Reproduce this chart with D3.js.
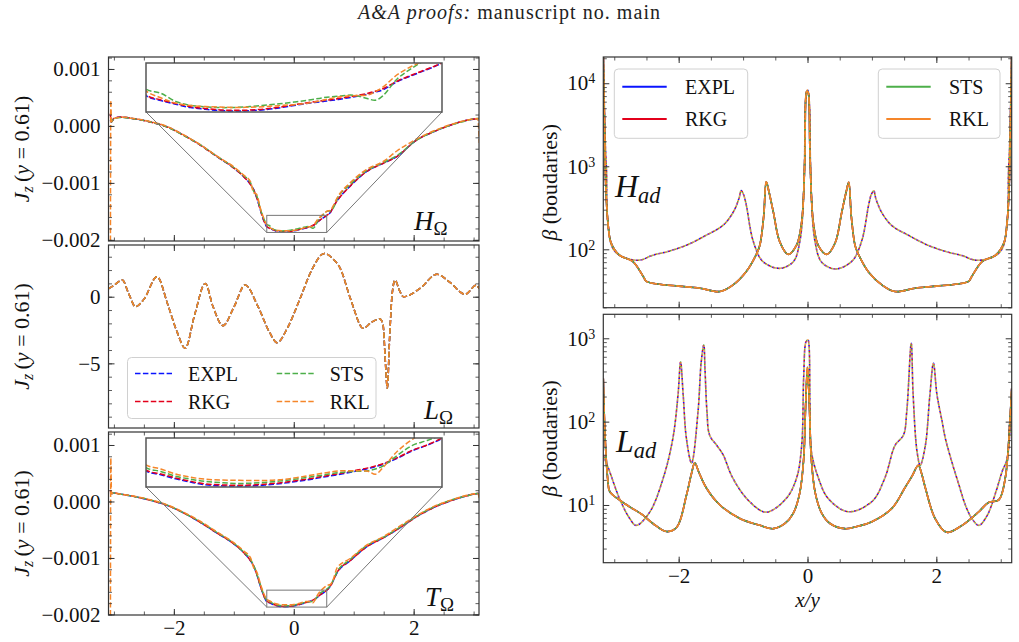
<!DOCTYPE html>
<html><head><meta charset="utf-8">
<script src="https://cdn.jsdelivr.net/npm/d3@7"></script>
<style>body{margin:0;background:#fff}svg{display:block}</style>
</head><body><svg id="c" width="1019" height="642"></svg>
<script>
// ---------------- DATA ----------------
const methods = ["EXPL","RKG","STS","RKL"];
const methodColors = ["#0a14ff","#e3001b","#4daf4a","#f5862a"];

// left column: J_z along y = 0.61 (units of 1e-3 for H and T panels)
const xJ = [-3.058,-3.052,-3.04,-3.00,-2.89,-2.67,-2.39,-2.11,-1.84,-1.56,-1.28,-1.00,-0.84,-0.72,-0.67,-0.62,-0.55,-0.50,-0.45,-0.40,-0.35,-0.30,-0.25,-0.20,-0.15,-0.10,-0.05,0.00,0.05,0.10,0.15,0.20,0.25,0.30,0.325,0.35,0.40,0.45,0.50,0.55,0.61,0.66,0.72,0.94,1.22,1.50,1.72,2.05,2.33,2.61,2.89,3.07,3.095];
const jzH_EXPL = [0.10,0.08,0.07,0.13,0.156,0.128,0.069,-0.017,-0.161,-0.335,-0.538,-0.739,-0.885,-1.03,-1.115,-1.25,-1.50,-1.66,-1.770,-1.800,-1.822,-1.843,-1.853,-1.861,-1.864,-1.862,-1.856,-1.845,-1.830,-1.816,-1.805,-1.793,-1.778,-1.760,-1.748,-1.735,-1.683,-1.645,-1.610,-1.572,-1.52,-1.42,-1.32,-1.058,-0.798,-0.652,-0.538,-0.248,-0.104,0.012,0.099,0.128,0.13];
const jzH_RKG  = [0.22,0.12,0.07,0.13,0.155,0.127,0.068,-0.018,-0.162,-0.336,-0.539,-0.74,-0.886,-1.03,-1.117,-1.25,-1.50,-1.66,-1.766,-1.796,-1.818,-1.838,-1.849,-1.857,-1.860,-1.858,-1.852,-1.841,-1.826,-1.812,-1.800,-1.788,-1.773,-1.755,-1.743,-1.728,-1.680,-1.642,-1.607,-1.570,-1.52,-1.42,-1.32,-1.057,-0.797,-0.651,-0.537,-0.247,-0.103,0.013,0.10,0.128,0.13];
const jzH_STS  = [0.10,0.09,0.07,0.13,0.15,0.125,0.07,-0.02,-0.165,-0.33,-0.535,-0.73,-0.87,-1.00,-1.14,-1.22,-1.48,-1.63,-1.730,-1.755,-1.805,-1.829,-1.838,-1.843,-1.842,-1.837,-1.829,-1.820,-1.809,-1.797,-1.782,-1.773,-1.767,-1.789,-1.798,-1.771,-1.665,-1.600,-1.545,-1.50,-1.49,-1.44,-1.29,-1.03,-0.78,-0.64,-0.52,-0.25,-0.10,0.01,0.095,0.13,0.13];
const jzH_RKL  = [-2.3,0.45,0.08,0.13,0.155,0.13,0.075,-0.01,-0.155,-0.33,-0.53,-0.72,-0.86,-0.98,-1.17,-1.20,-1.47,-1.62,-1.741,-1.783,-1.815,-1.830,-1.837,-1.840,-1.842,-1.841,-1.837,-1.831,-1.825,-1.815,-1.797,-1.778,-1.770,-1.766,-1.745,-1.718,-1.640,-1.588,-1.545,-1.50,-1.48,-1.40,-1.27,-1.00,-0.76,-0.62,-0.44,-0.23,-0.09,0.02,0.10,0.13,-0.30];

const jzT_EXPL = [0.15,0.14,0.14,0.15,0.13,0.09,0.02,-0.07,-0.20,-0.37,-0.56,-0.75,-0.90,-1.05,-1.14,-1.28,-1.52,-1.67,-1.772,-1.795,-1.820,-1.840,-1.856,-1.862,-1.864,-1.863,-1.858,-1.850,-1.838,-1.825,-1.809,-1.794,-1.776,-1.757,-1.745,-1.732,-1.693,-1.648,-1.614,-1.573,-1.50,-1.40,-1.27,-1.05,-0.80,-0.64,-0.50,-0.27,-0.11,0.01,0.10,0.14,0.14];
const jzT_RKG  = [0.20,0.14,0.14,0.15,0.13,0.09,0.02,-0.07,-0.20,-0.37,-0.56,-0.75,-0.90,-1.05,-1.14,-1.28,-1.52,-1.67,-1.767,-1.790,-1.815,-1.835,-1.851,-1.857,-1.859,-1.858,-1.853,-1.845,-1.833,-1.820,-1.804,-1.789,-1.771,-1.753,-1.741,-1.728,-1.690,-1.645,-1.612,-1.570,-1.50,-1.40,-1.26,-1.05,-0.80,-0.64,-0.50,-0.27,-0.11,0.01,0.10,0.14,0.14];
const jzT_STS  = [0.16,0.15,0.14,0.15,0.13,0.09,0.025,-0.065,-0.20,-0.36,-0.55,-0.74,-0.89,-1.03,-1.13,-1.27,-1.50,-1.65,-1.751,-1.775,-1.804,-1.822,-1.836,-1.843,-1.848,-1.847,-1.842,-1.834,-1.823,-1.810,-1.796,-1.782,-1.775,-1.770,-1.760,-1.742,-1.675,-1.615,-1.585,-1.55,-1.49,-1.39,-1.25,-1.03,-0.78,-0.63,-0.49,-0.26,-0.10,0.02,0.10,0.14,0.13];
const jzT_RKL  = [-2.3,0.77,0.14,0.15,0.13,0.095,0.03,-0.06,-0.19,-0.35,-0.54,-0.73,-0.87,-1.00,-1.17,-1.24,-1.48,-1.63,-1.734,-1.760,-1.790,-1.810,-1.822,-1.827,-1.829,-1.830,-1.830,-1.826,-1.815,-1.800,-1.785,-1.772,-1.770,-1.773,-1.792,-1.752,-1.650,-1.578,-1.53,-1.49,-1.47,-1.38,-1.18,-1.01,-0.77,-0.62,-0.47,-0.25,-0.09,0.02,0.11,0.14,0.06];

const xLO = [-3.09,-3.0,-2.86,-2.75,-2.64,-2.5,-2.28,-2.1,-1.95,-1.81,-1.65,-1.475,-1.35,-1.18,-1.0,-0.81,-0.6,-0.4,-0.28,-0.1,0.1,0.3,0.51,0.65,0.775,0.95,1.16,1.3,1.44,1.49,1.53,1.56,1.60,1.64,1.69,1.76,1.83,2.1,2.39,2.6,2.86,3.05,3.09];
const jzL_all = [0.60,0.85,1.25,0.2,-0.75,-0.2,1.50,-0.6,-2.6,-3.87,-1.3,1.0,-0.7,-2.17,-0.8,0.88,-0.7,-2.7,-3.45,-2.3,-0.2,2.0,3.25,2.85,2.13,-0.2,-2.37,-1.9,-1.67,-2.12,-5.0,-6.87,-3.0,0.13,1.25,0.5,0.0,0.6,1.68,1.1,0.18,0.88,0.6];

// right column: plasma beta at the boundaries
const xHadA = [-3.17,-3.15,-3.13,-3.10,-3.05,-2.92,-2.71,-2.55,-2.50,-2.30,-2.00,-1.67,-1.36,-1.16,-0.95,-0.80,-0.74,-0.68,-0.64,-0.60,-0.53,-0.43,-0.30,-0.17,-0.09,-0.04,-0.014,0,0.014,0.04,0.09,0.17,0.30,0.43,0.53,0.60,0.64,0.68,0.74,0.80,0.95,1.16,1.36,1.67,2.00,2.30,2.50,2.55,2.71,2.92,3.05,3.10,3.13,3.15,3.17];
const betaHadA = [22000,3000,540,220,120,85,71,47,41,38,36,34,31,37,54,85,112,250,650,500,280,123,87,112,214,1380,7900,8000,7600,1300,210,110,87,120,275,490,640,250,110,84,53,37,31,34,36,38,41,47,71,85,120,220,540,3000,22000];
const xHadB = [-3.17,-3.14,-3.12,-3.10,-3.02,-2.87,-2.61,-2.40,-2.19,-1.88,-1.57,-1.31,-1.15,-1.06,-1.03,-0.99,-0.95,-0.84,-0.69,-0.43,-0.22,-0.12,-0.056,-0.025,0,0.025,0.056,0.12,0.22,0.43,0.69,0.84,0.95,0.99,1.03,1.06,1.15,1.31,1.57,1.88,2.19,2.40,2.61,2.87,3.02,3.10,3.12,3.14,3.17];
const betaHadB = [22000,2000,870,214,102,81,74,85,93,112,148,195,282,420,510,450,340,123,71,59,71,123,540,6600,8300,6400,520,120,70,58,72,125,345,455,505,410,280,193,147,111,92,84,74,80,101,210,850,2000,22000];
const xLadA = [-3.17,-3.14,-3.10,-3.07,-2.92,-2.76,-2.56,-2.40,-2.19,-2.03,-1.88,-1.80,-1.75,-1.68,-1.57,-1.36,-1.05,-0.74,-0.53,-0.35,-0.22,-0.12,-0.06,-0.03,0,0.03,0.06,0.12,0.22,0.35,0.58,0.80,1.0,1.31,1.51,1.62,1.72,1.77,1.83,1.98,2.16,2.40,2.66,2.81,2.97,3.07,3.15,3.17];
const betaLadA = [330,60,20,14.5,11.5,9.5,7.6,6.0,4.8,5.4,13,24,32,24,16,10,6.9,5.7,5.2,6.0,8,14,35,150,450,150,35,14,8,6.0,5.2,5.6,6.3,9.1,16,22,30,24,16,6.9,4.7,5.7,8.3,10.7,11.5,21,130,250];
const xLadB = [-3.17,-3.15,-3.07,-2.92,-2.76,-2.66,-2.45,-2.24,-2.09,-2.01,-1.97,-1.93,-1.88,-1.80,-1.70,-1.65,-1.61,-1.59,-1.56,-1.52,-1.41,-1.31,-1.16,-0.90,-0.64,-0.33,-0.17,-0.09,-0.06,-0.025,0,0.01,0.04,0.06,0.17,0.32,0.63,1.0,1.20,1.36,1.49,1.54,1.61,1.64,1.70,1.75,1.83,1.90,1.955,2.01,2.09,2.14,2.24,2.35,2.45,2.55,2.66,2.79,2.92,3.02,3.10,3.17];
const betaLadB = [40,36,25,12,6.9,5.7,8.2,21,63,210,520,210,63,32,130,520,830,400,130,69,52,40,21,11,8.2,12,21,52,330,900,950,950,130,44,21,12,8.3,11,21,52,69,130,870,210,44,30,52,210,500,210,100,63,33,17.5,10,6.9,5.7,7.5,14,25,36,250];

// ticks
const xTicks = [-2,0,2];
const xTickLabels = ["\u22122","0","2"];
const jzTicks = [1,0,-1,-2];
const jzTickLabels = ["0.001","0.000","\u22120.001","\u22120.002"];
const lTicks = [0,-5];
const lTickLabels = ["0","\u22125"];
const hadTicks = [100,1000,10000];
const ladTicks = [10,100,1000];

// ---------------- DRAWING ----------------
const FONT = '"Liberation Serif","Times New Roman",serif';
const TICKFS = 21;
const svg = d3.select("#c");
const defs = svg.append("defs");
let cid = 0;
function clipRect(x,y,w,h){const id="cl"+(cid++);defs.append("clipPath").attr("id",id).append("rect").attr("x",x).attr("y",y).attr("width",w).attr("height",h);return `url(#${id})`;}

// header
const hd = svg.append("text").attr("x",358).attr("y",19).attr("font-family",FONT).attr("font-size",20)
  .attr("fill","#222").attr("textLength",302).attr("lengthAdjust","spacing");
hd.append("tspan").attr("font-style","italic").text("A&A proofs:");
hd.append("tspan").text(" manuscript no. main");

function axes(o){
  const g = svg.append("g");
  function mk(axis, tr, size, vals, fmt, pad){
    const a = g.append("g").attr("transform",tr)
      .call(axis.tickValues(vals).tickSize(size).tickPadding(pad||8).tickFormat(fmt||(()=>"")));
    a.select(".domain").remove();
    a.selectAll(".tick line").attr("stroke","#333").attr("stroke-width", size<-4?1:0.8);
    a.selectAll(".tick text").attr("font-family",FONT).attr("font-size",TICKFS).attr("fill","#111");
    return a;
  }
  mk(d3.axisBottom(o.x),`translate(0,${o.y1})`,-6,o.xMaj,o.xFmt,5);
  mk(d3.axisBottom(o.x),`translate(0,${o.y1})`,-3.5,o.xMin);
  mk(d3.axisTop(o.x),`translate(0,${o.y0})`,-6,o.xMaj);
  mk(d3.axisTop(o.x),`translate(0,${o.y0})`,-3.5,o.xMin);
  const la = mk(d3.axisLeft(o.y),`translate(${o.x0},0)`,-6,o.yMaj,o.yFmt,8);
  mk(d3.axisLeft(o.y),`translate(${o.x0},0)`,-3.5,o.yMin);
  mk(d3.axisRight(o.y),`translate(${o.x1},0)`,-6,o.yMaj);
  mk(d3.axisRight(o.y),`translate(${o.x1},0)`,-3.5,o.yMin);
  if(o.logLabels){
    la.selectAll(".tick text").each(function(d){
      const t=d3.select(this); t.text("");
      t.append("tspan").text("10");
      t.append("tspan").attr("dy","-0.5em").attr("font-size",14).text(Math.round(Math.log10(d)));
    });
  }
  svg.append("rect").attr("x",o.x0).attr("y",o.y0).attr("width",o.x1-o.x0).attr("height",o.y1-o.y0)
    .attr("fill","none").attr("stroke","#333").attr("stroke-width",1.2);
}

function yTitleJ(cy){
  const t = svg.append("text").attr("transform",`translate(29,${cy}) rotate(-90)`).attr("text-anchor","middle")
    .attr("font-family",FONT).attr("font-size",22).attr("fill","#111");
  t.append("tspan").attr("font-style","italic").text("J");
  t.append("tspan").attr("font-style","italic").attr("font-size",16).attr("dy",4).text("z");
  t.append("tspan").attr("dy",-4).text("\u2009(");
  t.append("tspan").attr("font-style","italic").text("y");
  t.append("tspan").text("\u2005=\u20050.61)");
}
function yTitleB(cy){
  const t = svg.append("text").attr("transform",`translate(557,${cy}) rotate(-90)`).attr("text-anchor","middle")
    .attr("font-family",FONT).attr("font-size",22).attr("fill","#111");
  t.append("tspan").attr("font-style","italic").text("\u03b2");
  t.append("tspan").text(" (boudaries)");
}
function panelLabel(x,y,main,sub,size,subItalic){
  const t = svg.append("text").attr("x",x).attr("y",y).attr("font-family",FONT).attr("font-size",size).attr("fill","#111");
  t.append("tspan").attr("font-style","italic").text(main);
  t.append("tspan").attr("font-size",size*0.7).attr("dy",size*0.2).attr("font-style",subItalic?"italic":"normal").text(sub);
}

// ---- left column ----
const LX0=108.5, LX1=479;
const xJs = d3.scaleLinear().domain([-3.09,3.09]).range([LX0,LX1]);
const xMinorJ = d3.range(-3,3.01,0.5);
const fmtX = d => xTickLabels[xTicks.indexOf(d)];
const fmtJ = d => jzTickLabels[jzTicks.indexOf(d)];
const fmtL = d => lTickLabels[lTicks.indexOf(d)];
const DASH = "5.5,2.4";

const leftPanels = [
  {y0:57,y1:241,dom:[-2.02,1.21],xs:xJ,series:[jzH_EXPL,jzH_RKG,jzH_STS,jzH_RKL],yMaj:jzTicks,yMin:d3.range(-2,1.21,0.2),fmt:fmtJ,inset:true,label:["H","\u03a9"],lab:[414,230]},
  {y0:245,y1:428,dom:[-9.85,3.88],xs:xLO,series:[jzL_all,jzL_all,jzL_all,jzL_all],yMaj:lTicks,yMin:d3.range(-9,3.5,1),fmt:fmtL,inset:false,label:["L","\u03a9"],lab:[424,419]},
  {y0:432,y1:615,dom:[-2.01,1.23],xs:xJ,series:[jzT_EXPL,jzT_RKG,jzT_STS,jzT_RKL],yMaj:jzTicks,yMin:d3.range(-2,1.23,0.2),fmt:fmtJ,inset:true,label:["T","\u03a9"],lab:[425,606],xlab:true}
];

leftPanels.forEach(p=>{
  const y = d3.scaleLinear().domain(p.dom).range([p.y1,p.y0]);
  const cp = clipRect(LX0,p.y0,LX1-LX0,p.y1-p.y0);
  const g = svg.append("g").attr("clip-path",cp);
  const line = d3.line().x((d,i)=>xJs(p.xs[i])).y(d=>y(d)).curve(d3.curveMonotoneX);
  p.series.forEach((s,k)=>{
    g.append("path").attr("d",line(s)).attr("fill","none").attr("stroke",methodColors[k])
      .attr("stroke-width",1.5).attr("stroke-dasharray",DASH);
  });
  if(p.inset){
    const ix0=146, ix1=442, iy0=p.y0+6, iy1=p.y0+55;
    const xi = d3.scaleLinear().domain([-0.45,0.55]).range([ix0,ix1]);
    const yi = d3.scaleLinear().domain([-1.87,-1.57]).range([iy1,iy0]);
    const rx0=xJs(-0.45), rx1=xJs(0.55), ry0=y(-1.57), ry1=y(-1.87);
    svg.append("rect").attr("x",rx0).attr("y",ry0).attr("width",rx1-rx0).attr("height",ry1-ry0)
      .attr("fill","none").attr("stroke","#777").attr("stroke-width",1);
    svg.append("line").attr("x1",rx0).attr("y1",ry1).attr("x2",ix0).attr("y2",iy1).attr("stroke","#777").attr("stroke-width",1);
    svg.append("line").attr("x1",rx1).attr("y1",ry1).attr("x2",ix1).attr("y2",iy1).attr("stroke","#777").attr("stroke-width",1);
    svg.append("rect").attr("x",ix0).attr("y",iy0).attr("width",ix1-ix0).attr("height",iy1-iy0).attr("fill","#fff");
    const gi = svg.append("g").attr("clip-path",clipRect(ix0,iy0,ix1-ix0,iy1-iy0));
    const li = d3.line().x((d,i)=>xi(p.xs[i])).y(d=>yi(d)).curve(d3.curveCatmullRom.alpha(0.5));
    p.series.forEach((s,k)=>{
      gi.append("path").attr("d",li(s)).attr("fill","none").attr("stroke",methodColors[k])
        .attr("stroke-width",1.5).attr("stroke-dasharray",DASH);
    });
    svg.append("rect").attr("x",ix0).attr("y",iy0).attr("width",ix1-ix0).attr("height",iy1-iy0)
      .attr("fill","none").attr("stroke","#555").attr("stroke-width",1.5);
  }
  axes({x:xJs,y,x0:LX0,x1:LX1,y0:p.y0,y1:p.y1,xMaj:xTicks,xMin:xMinorJ,yMaj:p.yMaj,yMin:p.yMin,yFmt:p.fmt,xFmt:p.xlab?fmtX:null});
  yTitleJ((p.y0+p.y1)/2);
  panelLabel(p.lab[0],p.lab[1],p.label[0],p.label[1],27,false);
});

// legend in middle-left panel
(function(){
  const g = svg.append("g");
  g.append("rect").attr("x",127.5).attr("y",357.5).attr("width",248.5).attr("height",61).attr("rx",4)
    .attr("fill","#fff").attr("fill-opacity",0.85).attr("stroke","#d0d0d0");
  const pos = [[135,373.5],[135,401.5],[276.7,373.5],[276.7,401.5]];
  methods.forEach((m,k)=>{
    const [hx,hy]=pos[k];
    g.append("line").attr("x1",hx).attr("x2",hx+37).attr("y1",hy).attr("y2",hy).attr("stroke",methodColors[k])
      .attr("stroke-width",1.5).attr("stroke-dasharray",DASH);
    g.append("text").attr("x",hx+53).attr("y",hy).attr("dy","0.35em").attr("font-family",FONT).attr("font-size",20).attr("fill","#111").text(m);
  });
})();

// ---- right column ----
const RX0=603.3, RX1=1011.7;
const xBs = d3.scaleLinear().domain([-3.17,3.17]).range([RX0,RX1]);
const xMinorB = d3.range(-3,3.01,0.5);
function logMinor(lo,hi){const a=[];for(let e=Math.floor(Math.log10(lo));e<=Math.ceil(Math.log10(hi));e++)for(let m=2;m<=9;m++){const v=m*Math.pow(10,e);if(v>=lo&&v<=hi)a.push(v);}return a;}

const rightPanels = [
  {y0:57,y1:307.7,dom:[19.8,20700],ticks:hadTicks,A:[xHadA,betaHadA],B:[xHadB,betaHadB],label:["H","ad"],lab:[615,197]},
  {y0:314.3,y1:562.7,dom:[2.03,1940],ticks:ladTicks,A:[xLadA,betaLadA],B:[xLadB,betaLadB],label:["L","ad"],lab:[616,452],xlab:true}
];
rightPanels.forEach(p=>{
  const y = d3.scaleLog().domain(p.dom).range([p.y1,p.y0]);
  const g = svg.append("g").attr("clip-path",clipRect(RX0,p.y0,RX1-RX0,p.y1-p.y0));
  const mkLine = xs => d3.line().x((d,i)=>xBs(xs[i])).y(d=>y(d)).curve(d3.curveCatmullRom.alpha(0.5));
  const lA = mkLine(p.A[0]), lB = mkLine(p.B[0]);
  methods.forEach((m,k)=>{
    g.append("path").attr("d",lA(p.A[1])).attr("fill","none").attr("stroke",methodColors[k]).attr("stroke-width",1.6)
      .attr("stroke-dasharray", k===3 ? "7,1.8" : null);
    g.append("path").attr("d",lB(p.B[1])).attr("fill","none").attr("stroke",methodColors[k]).attr("stroke-width",1.6)
      .attr("stroke-dasharray","1.2,3.6").attr("stroke-dashoffset",-1.2*k);
  });
  axes({x:xBs,y,x0:RX0,x1:RX1,y0:p.y0,y1:p.y1,xMaj:xTicks,xMin:xMinorB,yMaj:p.ticks,yMin:logMinor(p.dom[0],p.dom[1]),yFmt:d=>"x",logLabels:true,xFmt:p.xlab?fmtX:null});
  yTitleB((p.y0+p.y1)/2);
  panelLabel(p.lab[0],p.lab[1],p.label[0],p.label[1],32,true);
});

// legends in top-right panel
[[614.3,[0,1]],[878.3,[2,3]]].forEach(([bx,ks],j)=>{
  const w = j===0?133.4:121.7;
  const g = svg.append("g");
  g.append("rect").attr("x",bx).attr("y",69).attr("width",w).attr("height",69.3).attr("rx",4)
    .attr("fill","#fff").attr("fill-opacity",0.85).attr("stroke","#d0d0d0");
  ks.forEach((k,r)=>{
    const hy = r===0?86.7:119;
    g.append("line").attr("x1",bx+8).attr("x2",bx+52.4).attr("y1",hy).attr("y2",hy).attr("stroke",methodColors[k]).attr("stroke-width",2);
    g.append("text").attr("x",bx+70.7).attr("y",hy).attr("dy","0.35em").attr("font-family",FONT).attr("font-size",20).attr("fill","#111").text(methods[k]);
  });
});

// x label
svg.append("text").attr("x",807.5).attr("y",607).attr("text-anchor","middle").attr("font-family",FONT)
  .attr("font-size",21).attr("font-style","italic").attr("fill","#111").text("x/y");
</script></body></html>
